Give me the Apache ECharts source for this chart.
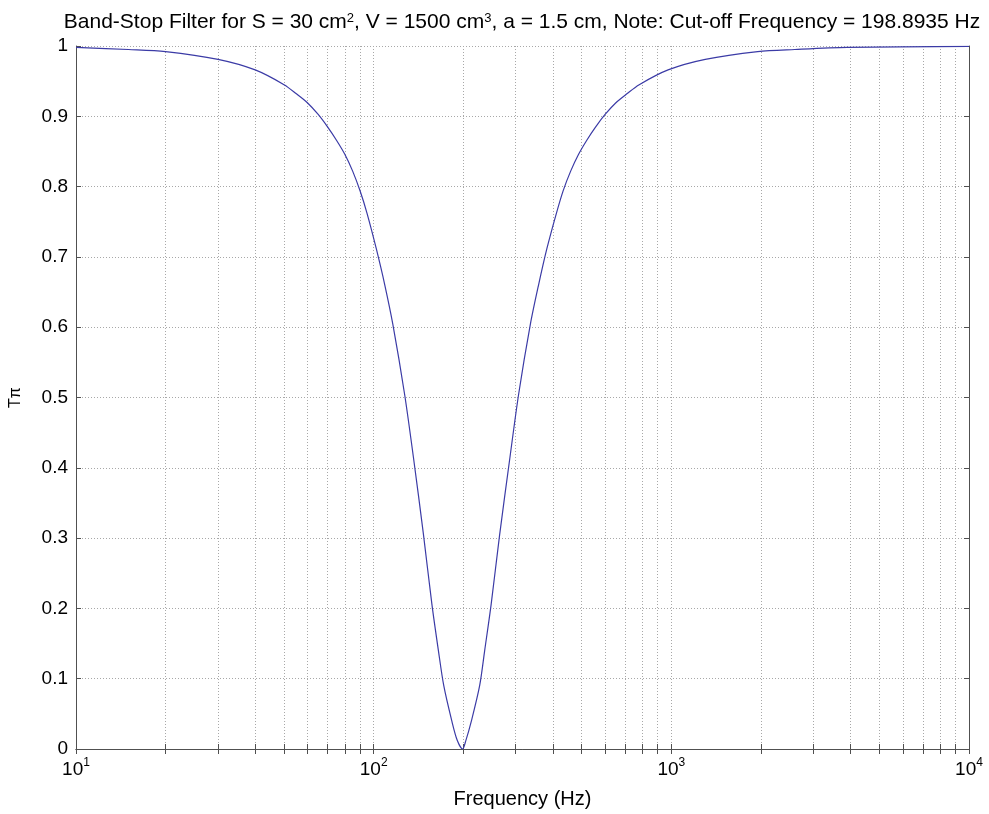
<!DOCTYPE html>
<html>
<head>
<meta charset="utf-8">
<script src="https://cdn.jsdelivr.net/npm/echarts@6/dist/echarts.min.js"></script>
<style>
html, body { margin: 0; padding: 0; background: #ffffff; }
#chart { width: 989px; height: 814px; }
</style>
</head>
<body>
<div id="chart"></div>
<script>
// Band-stop filter transmission vs. frequency (log axis)
const freqHz = [10, 15, 20, 30, 40, 50, 55, 60, 65, 70, 75, 80, 85, 90, 95, 102, 109, 116, 127, 136, 147, 157, 165, 172, 183, 191, 198.9,
  204, 213, 227, 236, 248, 265, 287, 307, 336, 358, 382, 411, 433, 459, 488, 520, 557, 600, 650, 709, 780, 975, 1300, 1950, 2600, 3900, 10000];
const transmission = [0.998, 0.995, 0.992, 0.981, 0.966, 0.945, 0.932, 0.919, 0.903, 0.885, 0.866, 0.846, 0.822, 0.794, 0.762, 0.712, 0.660, 0.604, 0.505, 0.415, 0.305, 0.205, 0.140, 0.090, 0.040, 0.012, 0.0,
  0.012, 0.040, 0.090, 0.140, 0.205, 0.305, 0.415, 0.505, 0.604, 0.660, 0.712, 0.762, 0.794, 0.822, 0.846, 0.866, 0.885, 0.903, 0.919, 0.932, 0.945, 0.966, 0.981, 0.992, 0.995, 0.998, 0.9995];

const decadeTicks = [10, 100, 1000, 10000];
const minorTicks = [];
for (let d = 10; d < 10000; d *= 10) {
  for (let k = 1; k <= 9; k++) minorTicks.push(d * k);
}
minorTicks.push(10000);

const yTicks = [0, 0.1, 0.2, 0.3, 0.4, 0.5, 0.6, 0.7, 0.8, 0.9, 1];

const FONT = 'Liberation Sans, Arial, sans-serif';
const gridLine = { show: true, lineStyle: { color: '#a8a8a8', type: [1, 2], width: 1 } };
const axisLineStyle = { color: '#505050', width: 1 };

const chart = echarts.init(document.getElementById('chart'), null, { renderer: 'canvas' });

function expLabel(v) {
  const e = Math.round(Math.log10(v));
  return '{b|10}{s|' + e + '}';
}

chart.setOption({
  backgroundColor: '#ffffff',
  animation: false,
  title: {
    text: 'Band-Stop Filter for S = 30 cm{s|2}, V = 1500 cm{s|3}, a = 1.5 cm, Note: Cut-off Frequency = 198.8935 Hz',
    left: 517,
    textAlign: 'center',
    top: 7,
    textStyle: {
      fontFamily: FONT, fontSize: 21, fontWeight: 'normal', color: '#000000',
      rich: {
        s: { fontFamily: FONT, fontSize: 13, color: '#000000', verticalAlign: 'top', lineHeight: 10 }
      }
    }
  },
  grid: { left: 75, right: 20, top: 46, bottom: 65 },
  xAxis: [
    {
      type: 'log', logBase: 10, min: 10, max: 10000,
      name: 'Frequency (Hz)', nameLocation: 'middle', nameGap: 40,
      nameTextStyle: { fontFamily: FONT, fontSize: 20, color: '#000000' },
      axisLine: { show: true, lineStyle: axisLineStyle },
      axisTick: { show: true, inside: true, length: 5, customValues: minorTicks, lineStyle: axisLineStyle },
      minorTick: { show: false },
      splitLine: gridLine,
      axisLabel: {
        customValues: decadeTicks, margin: 8, formatter: expLabel,
        rich: {
          b: { fontFamily: FONT, fontSize: 19, color: '#000000', lineHeight: 22, verticalAlign: 'bottom' },
          s: { fontFamily: FONT, fontSize: 12, color: '#000000', lineHeight: 12, verticalAlign: 'top' }
        }
      }
    },
    {
      type: 'log', logBase: 10, min: 10, max: 10000, position: 'top',
      axisLine: { show: true, lineStyle: axisLineStyle },
      axisTick: { show: true, inside: true, length: 5, customValues: minorTicks, lineStyle: axisLineStyle },
      axisLabel: { show: false },
      splitLine: { show: false }
    }
  ],
  yAxis: [
    {
      type: 'value', min: 0, max: 1, interval: 0.1,
      name: 'T\u03c0', nameLocation: 'middle', nameGap: 52, nameRotate: 90,
      nameTextStyle: { fontFamily: FONT, fontSize: 16, color: '#000000' },
      axisLine: { show: true, lineStyle: axisLineStyle },
      axisTick: { show: true, inside: true, length: 5, lineStyle: axisLineStyle },
      splitLine: gridLine,
      axisLabel: {
        customValues: yTicks, margin: 8,
        fontFamily: FONT, fontSize: 19, color: '#000000',
        formatter: function (v) { return String(Math.round(v * 10) / 10); }
      }
    },
    {
      type: 'value', min: 0, max: 1, interval: 0.1, position: 'right',
      axisLine: { show: true, lineStyle: axisLineStyle },
      axisTick: { show: true, inside: true, length: 5, lineStyle: axisLineStyle },
      axisLabel: { show: false },
      splitLine: { show: false }
    }
  ],
  series: [
    {
      type: 'line',
      xAxisIndex: 0, yAxisIndex: 0,
      data: freqHz.map(function (f, i) { return [f, transmission[i]]; }),
      showSymbol: false,
      smooth: 0.3,
      lineStyle: { color: '#3b3ba6', width: 1.2 },
      z: 5
    }
  ]
});
</script>
</body>
</html>
